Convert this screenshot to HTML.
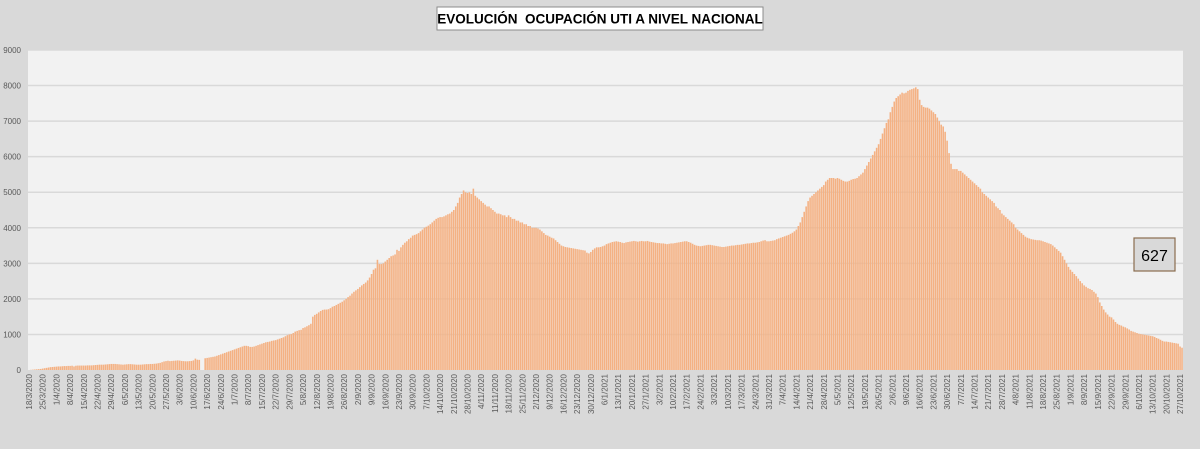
<!DOCTYPE html>
<html><head><meta charset="utf-8"><style>
html,body{margin:0;padding:0;background:#d9d9d9;}
body{width:1200px;height:444px;overflow:hidden;font-family:"Liberation Sans",sans-serif;}
</style></head><body>
<svg id="chart" width="1200" height="444" xmlns="http://www.w3.org/2000/svg">
<rect x="0" y="0" width="1200" height="444" fill="#d9d9d9"/>
<rect x="28" y="50" width="1155" height="320" fill="#f2f2f2"/>
<g id="grid"></g><g id="bars"></g><g id="xlabels"></g><g id="ylabels"></g>
<rect x="437" y="7" width="326" height="23" fill="#ffffff" stroke="#8c8c8c" stroke-width="1"/>
<text x="600" y="23.5" text-anchor="middle" font-size="13.5" font-weight="bold" fill="#000" xml:space="preserve">EVOLUCIÓN  OCUPACIÓN UTI A NIVEL NACIONAL</text>
<rect x="1134" y="238" width="41" height="33" fill="#d9d9d9" stroke="#8b6d4f" stroke-width="1.2"/>
<text x="1154.5" y="261" text-anchor="middle" font-size="16" fill="#000">627</text>
</svg>
<script>
const startDate = [2020, 3, 18];
const yTicks = [0,1000,2000,3000,4000,5000,6000,7000,8000,9000];
const values = [
0,5,10,15,20,25,30, 40,50,60,70,80,85,90, 95,100,100,105,110,110,115, 115,120,100,120,125,125,125,
125,125,130,130,130,135,140, 145,150,150,150,155,160,165, 170,170,170,165,160,155,150, 155,160,165,165,160,155,150,
150,150,155,160,165,165,170, 170,175,180,190,200,220,240, 250,260,250,255,260,265,270, 265,255,250,245,245,250,255,
270,320,290,285,0,0,330, 340,350,360,370,380,400,420, 440,460,480,500,520,540,560, 580,600,620,640,660,680,680,
670,650,650,660,680,700,720, 740,760,780,790,800,820,830, 840,860,880,900,920,950,980, 1000,1010,1040,1080,1100,1120,1130,
1180,1200,1230,1260,1300,1500,1550, 1580,1620,1660,1690,1700,1700,1710, 1740,1780,1800,1830,1860,1890,1920, 1960,2000,2050,2090,2150,2200,2240,
2280,2330,2380,2420,2460,2520,2600, 2700,2820,2860,3100,2980,2980,3000, 3050,3100,3150,3200,3220,3250,3380, 3350,3450,3520,3580,3620,3680,3720,
3780,3800,3820,3850,3900,3950,4000, 4030,4060,4100,4150,4200,4250,4280, 4300,4300,4320,4350,4380,4400,4450, 4500,4600,4700,4850,4950,5050,5000,
4980,5000,4950,5100,4900,4850,4800, 4750,4700,4650,4600,4600,4550,4500, 4450,4400,4400,4380,4350,4350,4300, 4350,4300,4250,4250,4200,4200,4150,
4150,4100,4100,4050,4050,4000,4000, 4000,3980,3950,3900,3850,3800,3780, 3750,3720,3700,3650,3600,3550,3500, 3480,3460,3450,3440,3430,3420,3410,
3400,3390,3380,3370,3360,3300,3280, 3320,3380,3420,3450,3450,3460,3480, 3500,3540,3560,3580,3600,3610,3620, 3610,3600,3580,3570,3590,3600,3610,
3620,3630,3620,3610,3620,3630,3620, 3620,3630,3610,3600,3590,3580,3570, 3570,3560,3560,3550,3540,3550,3560, 3560,3570,3580,3590,3600,3610,3620,
3620,3600,3580,3550,3520,3500,3490, 3480,3490,3500,3510,3520,3520,3510, 3500,3490,3480,3470,3460,3460,3470, 3480,3490,3500,3500,3510,3520,3520,
3530,3540,3550,3560,3560,3570,3580, 3580,3590,3600,3620,3640,3650,3620, 3620,3630,3640,3650,3680,3700,3720, 3740,3760,3780,3800,3830,3860,3900,
3950,4050,4150,4300,4450,4600,4750, 4850,4900,4950,5000,5050,5100,5150, 5200,5300,5350,5400,5400,5400,5380, 5400,5380,5350,5320,5300,5300,5320,
5350,5370,5380,5400,5450,5500,5550, 5650,5750,5850,5950,6050,6150,6250, 6350,6500,6650,6800,6950,7050,7250, 7400,7550,7650,7700,7750,7800,7780,
7800,7850,7880,7900,7920,7950,7900, 7600,7450,7400,7380,7380,7350,7300, 7250,7200,7100,7000,6900,6850,6700, 6450,6100,5800,5650,5650,5650,5600,
5600,5550,5500,5450,5400,5350,5300, 5250,5200,5150,5100,5000,4950,4900, 4850,4800,4750,4700,4600,4550,4500, 4400,4350,4300,4250,4200,4150,4100,
4000,3950,3900,3850,3800,3750,3720, 3700,3680,3670,3660,3650,3650,3640, 3620,3600,3580,3560,3540,3500,3450, 3400,3350,3300,3200,3100,3000,2900,
2820,2760,2700,2640,2570,2500,2440, 2380,2340,2300,2280,2250,2200,2150, 2050,1900,1800,1700,1620,1560,1500, 1480,1420,1350,1300,1270,1250,1220,
1200,1170,1140,1100,1080,1060,1040, 1020,1010,1000,990,980,970,960, 950,930,900,880,850,820,800, 800,790,780,770,760,750,740,
660,627
];
const NS="http://www.w3.org/2000/svg";
const plotL=28, plotR=1183, plotT=50, plotB=370, yMax=9000;
const band=(plotR-plotL)/values.length;
function xPos(i){return plotL+band*(i+0.5);}
function yPos(v){return plotB-(v/yMax)*(plotB-plotT);}
const grid=document.getElementById('grid');
yTicks.forEach(t=>{
  if(t>0){
  const l=document.createElementNS(NS,'line');
  l.setAttribute('x1',plotL);l.setAttribute('x2',plotR);
  l.setAttribute('y1',yPos(t));l.setAttribute('y2',yPos(t));
  l.setAttribute('stroke','#d9d9d9');l.setAttribute('stroke-width','1.5');
  
  
  grid.appendChild(l);}
  const tx=document.createElementNS(NS,'text');
  tx.setAttribute('x',21);tx.setAttribute('y',yPos(t)+3);
  tx.setAttribute('text-anchor','end');tx.setAttribute('font-size','8');tx.setAttribute('fill','#595959');
  tx.textContent=t;
  
  
  document.getElementById('ylabels').appendChild(tx);
});
const bars=document.getElementById('bars');
values.forEach((v,i)=>{
  if(v<=0) return;
  const r=document.createElementNS(NS,'rect');
  const w=band*0.8;
  r.setAttribute('x',xPos(i)-w/2);r.setAttribute('width',w);
  r.setAttribute('y',yPos(v));r.setAttribute('height',plotB-yPos(v));
  r.setAttribute('fill','#f4b183');
  
  
  bars.appendChild(r);
});
const xl=document.getElementById('xlabels');
const d0=new Date(startDate[0],startDate[1]-1,startDate[2],12);
for(let i=0;i<values.length;i+=7){
  const d=new Date(d0.getTime()+i*86400000);
  const s=d.getDate()+'/'+(d.getMonth()+1)+'/'+d.getFullYear();
  const tx=document.createElementNS(NS,'text');
  const x=xPos(i)+3, y=374;
  tx.setAttribute('transform','translate('+x+','+y+') rotate(-90)');
  tx.setAttribute('text-anchor','end');tx.setAttribute('font-size','8');tx.setAttribute('fill','#595959');
  tx.textContent=s;
  
  
  xl.appendChild(tx);
}
</script>
</body></html>
